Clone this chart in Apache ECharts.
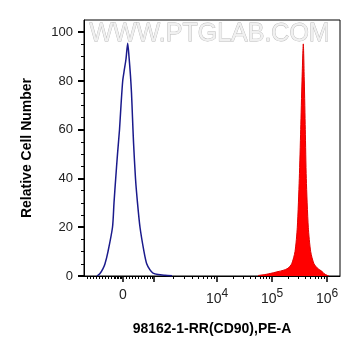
<!DOCTYPE html>
<html>
<head>
<meta charset="utf-8">
<script src="https://cdn.jsdelivr.net/npm/echarts@6/dist/echarts.min.js"></script>
<style>
    html, body { margin: 0; padding: 0; background: #fff; }
    #main { width: 361px; height: 356px; }
</style>
</head>
<body>
<div id="main"></div>
<script>
// x is in display channels (0..256, biexponential scale), y is % of max
var blueX = [13, 16, 19, 21, 24, 28.5, 30, 31.7, 33.5, 35.5, 37, 38.7, 40.3, 42, 43.7, 45, 46.5, 47.5, 48.5, 49.5, 51.5, 53.5, 56, 60, 62.7, 66, 69, 74, 81, 88];
var blueY = [0, 1, 3, 5, 10, 20, 30, 40, 50, 60, 70, 80, 84.5, 89, 95.5, 90, 82, 75, 65, 55, 40, 30, 20, 10, 5, 2.5, 1.2, 0.6, 0.3, 0.1];
var redX = [174, 181, 188, 194, 199, 204, 207.7, 211, 213.3, 215.3, 216.7, 218, 219.3, 220.3, 221.3, 222.3, 224.3, 226.7, 230, 234, 237.7, 240, 243, 245];
var redY = [0.2, 0.6, 1.2, 1.8, 2.3, 3.2, 5, 10, 20, 40, 60, 80, 95.2, 80, 60, 40, 20, 10, 5, 3, 2, 1, 0.3, 0];

var xMajorTicks = [39, 70, 133, 188, 243];
var xLabelTicks = [39, 133, 188, 243];
var xLabelText = {39: '0', 133: '10{s|4}', 188: '10{s|5}', 243: '10{s|6}'};
var xMinorTicks = [3, 6, 9, 12, 15, 18, 21, 24, 27, 30, 31.5, 33, 34.5, 36, 37.5,
    42, 45, 48, 51, 54, 57, 60, 63, 66, 68,
    89, 100, 108, 114, 119, 123, 127, 130,
    149.6, 159.2, 166.1, 171.4, 175.8, 179.5, 182.7, 185.5,
    204.6, 214.2, 221.1, 226.4, 230.8, 234.5, 237.7, 240.5];
var yMajorTicks = [0, 20, 40, 60, 80, 100];
var yMinorTicks = [5, 10, 15, 25, 30, 35, 45, 50, 55, 65, 70, 75, 85, 90, 95];

function pairs(xs, ys) {
    var out = [];
    for (var i = 0; i < xs.length; i++) out.push([xs[i], ys[i]]);
    return out;
}

var myChart = echarts.init(document.getElementById('main'));
var font = 'Arial, "Liberation Sans", sans-serif';

var option = {
    animation: false,
    grid: {
        left: 84, right: 21, top: 20, bottom: 80,
        show: true, borderColor: '#000', borderWidth: 1, backgroundColor: '#fff'
    },
    graphic: [{
        type: 'text', left: 89, top: 21, z: 0,
        style: {
            text: 'WWW.PTGLAB.COM', fontSize: 25, fontFamily: font,
            fill: '#f0f0f0', stroke: '#b8b8b8', lineWidth: 0.8
        }
    }],
    xAxis: [{
        type: 'value', min: 0, max: 256,
        name: '98162-1-RR(CD90),PE-A', nameLocation: 'middle', nameGap: 46,
        nameTextStyle: {fontFamily: font, fontSize: 14, fontWeight: 'bold', color: '#000'},
        splitLine: {show: false},
        axisLine: {onZero: false, lineStyle: {color: '#000', width: 1}},
        axisTick: {customValues: xMajorTicks, length: 6, lineStyle: {color: '#000', width: 1.5}},
        axisLabel: {
            customValues: xLabelTicks, margin: 12, color: '#222', fontFamily: font, fontSize: 14,
            formatter: function (v) { return xLabelText[Math.round(v)] || ''; },
            rich: {s: {fontSize: 12, fontFamily: font, color: '#222', padding: [0, 0, 10, 0]}}
        }
    }, {
        type: 'value', min: 0, max: 256, position: 'bottom', gridIndex: 0,
        splitLine: {show: false},
        axisLine: {show: false, onZero: false},
        axisLabel: {show: false},
        axisTick: {customValues: xMinorTicks, length: 3, lineStyle: {color: '#000', width: 1}}
    }],
    yAxis: [{
        type: 'value', min: 0, max: 105,
        name: 'Relative Cell Number', nameLocation: 'middle', nameGap: 50, nameRotate: 90,
        nameTextStyle: {fontFamily: font, fontSize: 14, fontWeight: 'bold', color: '#000'},
        splitLine: {show: false},
        axisLine: {show: true, onZero: false, lineStyle: {color: '#000', width: 1}},
        axisTick: {customValues: yMajorTicks, length: 6, lineStyle: {color: '#000', width: 2}},
        axisLabel: {customValues: yMajorTicks, margin: 11, color: '#222', fontFamily: font, fontSize: 13}
    }, {
        type: 'value', min: 0, max: 105, position: 'left', gridIndex: 0,
        splitLine: {show: false},
        axisLine: {show: false, onZero: false},
        axisLabel: {show: false},
        axisTick: {customValues: yMinorTicks, length: 3, lineStyle: {color: '#000', width: 1}}
    }],
    series: [{
        name: 'control',
        type: 'line',
        data: pairs(blueX, blueY),
        showSymbol: false,
        smooth: 0.25,
        lineStyle: {color: '#1a1a8c', width: 1.5},
        z: 3
    }, {
        name: 'CD90',
        type: 'line',
        data: pairs(redX, redY),
        showSymbol: false,
        smooth: 0.25,
        lineStyle: {color: '#e00000', width: 1},
        areaStyle: {color: '#ff0000', opacity: 1},
        z: 2
    }]
};

myChart.setOption(option);
</script>
</body>
</html>
